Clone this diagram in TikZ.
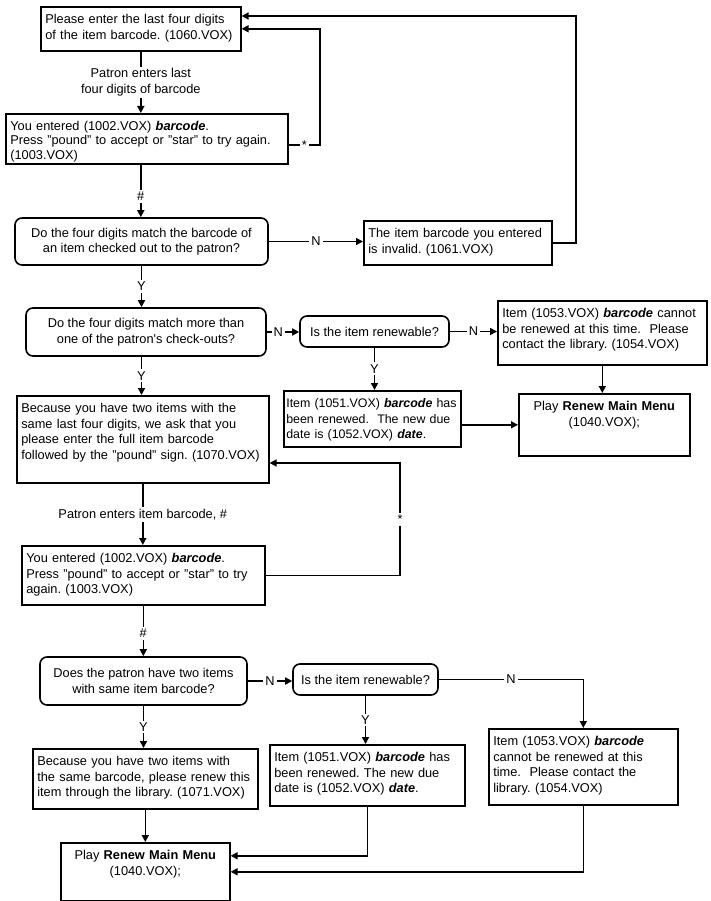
\documentclass[tikz,border=0pt]{standalone}
\usepackage{fontspec}
\setmainfont{Liberation Sans}
\usetikzlibrary{arrows.meta}
\frenchspacing

\begin{document}
\begin{tikzpicture}[x=1pt, y=-1pt, line width=1.6pt,
  >={Triangle[length=7pt,width=7pt]},
  font=\fontsize{12.8pt}{15.5pt}\selectfont,
  box/.style={draw, anchor=north west, align=left, inner xsep=4.5pt, inner ysep=4pt, text height=13pt},
  decision/.style={draw, rounded corners=7pt, align=center, inner sep=3pt},
  lbl/.style={fill=white, inner sep=2pt, align=center}]
  \useasboundingbox (0,0) rectangle (711,901);

  % first part: last four digits
  \node[box, text width=191pt, text depth=23pt] (n1060) at (40,6)
    {Please enter the last four digits\\of the item barcode. (1060.VOX)};
  \node[box, font=\fontsize{12.8pt}{14.5pt}\selectfont, text width=273pt, text height=12.5pt, text depth=29.5pt] (n1002a) at (5,113)
    {You entered (1002.VOX) \textbf{\textit{barcode}}.\\Press "pound" to accept or "star" to try again.\\(1003.VOX)};
  \node[decision, minimum width=253pt, minimum height=47pt] (d1) at (141.5,241.5)
    {Do the four digits match the barcode of\\an item checked out to the patron?};
  \node[box, text width=179pt, text depth=23pt] (n1061) at (363,220)
    {The item barcode you entered\\is invalid. (1061.VOX)};
  \node[decision, minimum width=240pt, minimum height=48pt] (d2) at (146,332)
    {Do the four digits match more than\\one of the patron\textquotesingle s check-outs?};
  \node[decision, minimum width=149pt, minimum height=31pt] (d3) at (374.5,331.5)
    {Is the item renewable?};
  \node[box, text width=200pt, text depth=43pt] (n1053a) at (497,300)
    {Item (1053.VOX) \textbf{\textit{barcode}} cannot\\be renewed at this time.\ \ Please\\contact the library. (1054.VOX)};
  \node[box, font=\fontsize{12.4pt}{15.5pt}\selectfont, inner xsep=2.5pt, text width=172pt, text depth=35pt] (n1051a) at (283,390)
    {Item (1051.VOX) \textbf{\textit{barcode}} has\\been renewed.\ \ The new due\\date is (1052.VOX) \textbf{\textit{date}}.};
  \node[box, align=center, text width=162pt, text depth=41pt] (playA) at (518,393)
    {Play \textbf{Renew Main Menu}\\(1040.VOX);};

  % second part: full item barcode
  \node[box, text width=243pt, text depth=66pt] (n1070) at (16,395)
    {Because you have two items with the\\same last four digits, we ask that you\\please enter the full item barcode\\followed by the "pound" sign. (1070.VOX)};
  \node[box, text width=234pt, text depth=38pt] (n1002b) at (21,545)
    {You entered (1002.VOX) \textbf{\textit{barcode}}.\\Press "pound" to accept or "star" to try\\again. (1003.VOX)};
  \node[decision, minimum width=207pt, minimum height=48pt] (d4) at (143.5,681)
    {Does the patron have two items\\with same item barcode?};
  \node[decision, minimum width=145pt, minimum height=31pt] (d5) at (365.5,679.5)
    {Is the item renewable?};
  \node[box, text width=186pt, text depth=40pt] (n1051b) at (269,744)
    {Item (1051.VOX) \textbf{\textit{barcode}} has\\been renewed. The new due\\date is (1052.VOX) \textbf{\textit{date}}.};
  \node[box, text width=180pt, text depth=55pt] (n1053b) at (488,728)
    {Item (1053.VOX) \textbf{\textit{barcode}}\\cannot be renewed at this\\time.\ \ Please contact the\\library. (1054.VOX)};
  \node[box, text width=216pt, text depth=39pt] (n1071) at (32,748)
    {Because you have two items with\\the same barcode, please renew this\\item through the library. (1071.VOX)};
  \node[box, align=center, text width=160pt, text depth=37pt] (playB) at (60,842)
    {Play \textbf{Renew Main Menu}\\(1040.VOX);};

  % loop corners
  \coordinate (starA) at (320,145);
  \coordinate (invA) at (576,16);
  \coordinate (starC) at (400,463);

  % connectors, first part
  \draw[->] (n1060.south) -- node[lbl]{Patron enters last\\four digits of barcode} (n1060.south |- n1002a.north);
  \draw[->] (n1002a.east |- starA) -- node[lbl]{*} (starA) |- (n1060.east);
  \draw[->] (n1002a.south -| n1060.south) -- node[lbl, pos=0.6]{\#} (d1.north -| n1060.south);
  \draw[->] (d1.east) -- node[lbl]{N} (d1.east -| n1061.west);
  \draw[->] (n1061.east) -| (invA) -- (invA -| n1060.east);
  \draw[->] (d1.south) -- node[lbl]{Y} (d1.south |- d2.north);
  \draw[->] (d2.east) -- node[lbl, pos=0.35]{N} (d2.east -| d3.west);
  \draw[->] (d3.east) -- node[lbl]{N} (d3.east -| n1053a.west);
  \draw[->] (d3.south) -- node[lbl]{Y} (d3.south |- n1051a.north);
  \draw[->] (n1053a.south) -- (n1053a.south |- playA.north);
  \draw[->] (n1051a.east |- playA.west) -- (playA.west);

  % connectors, second part
  \draw[->] (d2.south -| d1.south) -- node[lbl]{Y} (d1.south |- n1070.north);
  \draw[->] (n1070.south) -- node[lbl]{Patron enters item barcode, \#} (n1070.south |- n1002b.north);
  \draw[->] (n1002b.east) -| node[lbl, pos=0.75]{*} (starC) -- (starC -| n1070.east);
  \draw[->] (n1002b.south) -- node[lbl, pos=0.55]{\#} (n1002b.south |- d4.north);
  \draw[->] (d4.east) -- node[lbl]{N} (d4.east -| d5.west);
  \draw[->] (d5.east) -| node[lbl, pos=0.25]{N} (n1053b.north);
  \draw[->] (d5.south) -- node[lbl]{Y} (d5.south |- n1051b.north);
  \draw[->] (d4.south) -- node[lbl]{Y} (d4.south |- n1071.north);
  \draw[->] (n1071.south) -- (n1071.south |- playB.north);
  \draw[->] (n1051b.south) |- ([yshift=16pt]playB.east);
  \draw[->] (n1053b.south) |- (playB.east);
\end{tikzpicture}
\end{document}
